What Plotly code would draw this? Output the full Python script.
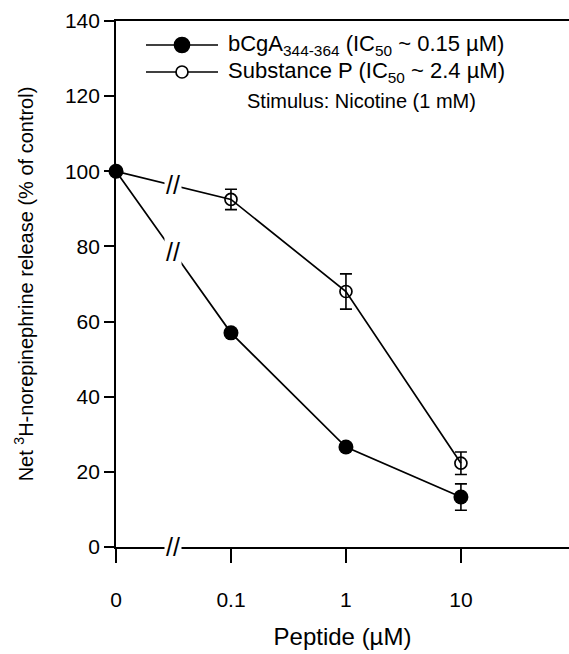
import plotly.graph_objects as go

# ---- data ----
x_labels = ["0", "0.1", "1", "10"]
x_pos = [0, 1, 2, 3]
bcga_vals = [100, 57, 26.6, 13.3]
bcga_err = [0, 0, 0, 3.5]
subp_vals = [100, 92.5, 68.0, 22.3]
subp_err = [0, 2.7, 4.7, 3.0]

FONT = "Liberation Sans, Arial, Helvetica, sans-serif"
W, H = 569, 654
L, R, T, B = 116, 0, 21, 107
pw, ph = W - L - R, H - T - B

def px2paper(px, py):
    return (px - L) / pw, (H - B - py) / ph

fig = go.Figure()

fig.add_trace(go.Scatter(
    x=x_pos, y=subp_vals, mode="lines+markers",
    line=dict(color="black", width=1.7),
    marker=dict(symbol="circle-open", size=12, color="black", line=dict(width=1.7, color="black")),
    error_y=dict(type="data", array=subp_err, visible=True, color="black", thickness=1.6, width=6),
    showlegend=False, cliponaxis=False, hoverinfo="skip",
))
fig.add_trace(go.Scatter(
    x=x_pos, y=bcga_vals, mode="lines+markers",
    line=dict(color="black", width=1.7),
    marker=dict(symbol="circle", size=15, color="black"),
    error_y=dict(type="data", array=bcga_err, visible=True, color="black", thickness=1.6, width=6),
    showlegend=False, cliponaxis=False, hoverinfo="skip",
))

annotations = []
# axis breaks between "0" and "0.1"
brk_x = (x_pos[0] + x_pos[1]) / 2
for yv in [(bcga_vals[0] + bcga_vals[1]) / 2, (subp_vals[0] + subp_vals[1]) / 2, 0]:
    annotations.append(dict(
        x=brk_x, y=yv, xref="x", yref="y", text="//", showarrow=False,
        font=dict(family=FONT, size=25, color="black"),
        bgcolor="white", borderpad=1, xanchor="center", yanchor="middle",
    ))

# manual legend
shapes = []
rows = [
    (45, "bCgA<sub>344-364</sub> (IC<sub>50</sub> ~ 0.15 µM)", "filled"),
    (72, "Substance P (IC<sub>50</sub> ~ 2.4 µM)", "open"),
]
for py, txt, kind in rows:
    x0, y0 = px2paper(146, py)
    x1, _ = px2paper(218, py)
    xm, _ = px2paper(182, py)
    xt, _ = px2paper(226, py)
    shapes.append(dict(type="line", xref="paper", yref="paper", x0=x0, x1=x1, y0=y0, y1=y0,
                       line=dict(color="black", width=1.7)))
    r = 7.5 if kind == "filled" else 6
    shapes.append(dict(type="circle", xref="paper", yref="paper", xsizemode="pixel", ysizemode="pixel",
                       xanchor=xm, yanchor=y0, x0=-r, x1=r, y0=-r, y1=r,
                       fillcolor="black" if kind == "filled" else "white",
                       line=dict(color="black", width=1.7)))
    annotations.append(dict(x=xt, y=y0, xref="paper", yref="paper", text=txt, showarrow=False,
                            xanchor="left", yanchor="middle", font=dict(family=FONT, size=22, color="black")))
xs, ys = px2paper(245, 101)
annotations.append(dict(x=xs, y=ys, xref="paper", yref="paper", text="Stimulus: Nicotine (1 mM)",
                        showarrow=False, xanchor="left", yanchor="middle",
                        font=dict(family=FONT, size=20, color="black")))

fig.update_layout(
    width=W, height=H,
    margin=dict(l=L, r=R, t=T, b=B, autoexpand=False),
    paper_bgcolor="white", plot_bgcolor="white",
    font=dict(family=FONT, size=21, color="black"),
    annotations=annotations, shapes=shapes,
    showlegend=False, hovermode=False,
)
fig.update_xaxes(
    range=[0, 3.94], tickvals=x_pos, ticktext=x_labels,
    showline=True, linecolor="black", linewidth=1.7, mirror=True,
    ticks="outside", ticklen=14, tickwidth=1.7, tickcolor="black",
    showgrid=False, zeroline=False, ticklabelstandoff=19,
    tickfont=dict(size=21),
    title=dict(text="Peptide (µM)", font=dict(size=24), standoff=18),
)
fig.update_yaxes(
    range=[0, 140], dtick=20,
    showline=True, linecolor="black", linewidth=1.7,
    ticks="outside", ticklen=10, tickwidth=1.7, tickcolor="black",
    showgrid=False, zeroline=False, tickfont=dict(size=21),
    title=dict(text="Net <sup>3</sup>H-norepinephrine release (% of control)", font=dict(size=20), standoff=26),
)

fig.write_html("out.html", config={"displayModeBar": False},
               post_script="document.body.style.margin='0px';")
